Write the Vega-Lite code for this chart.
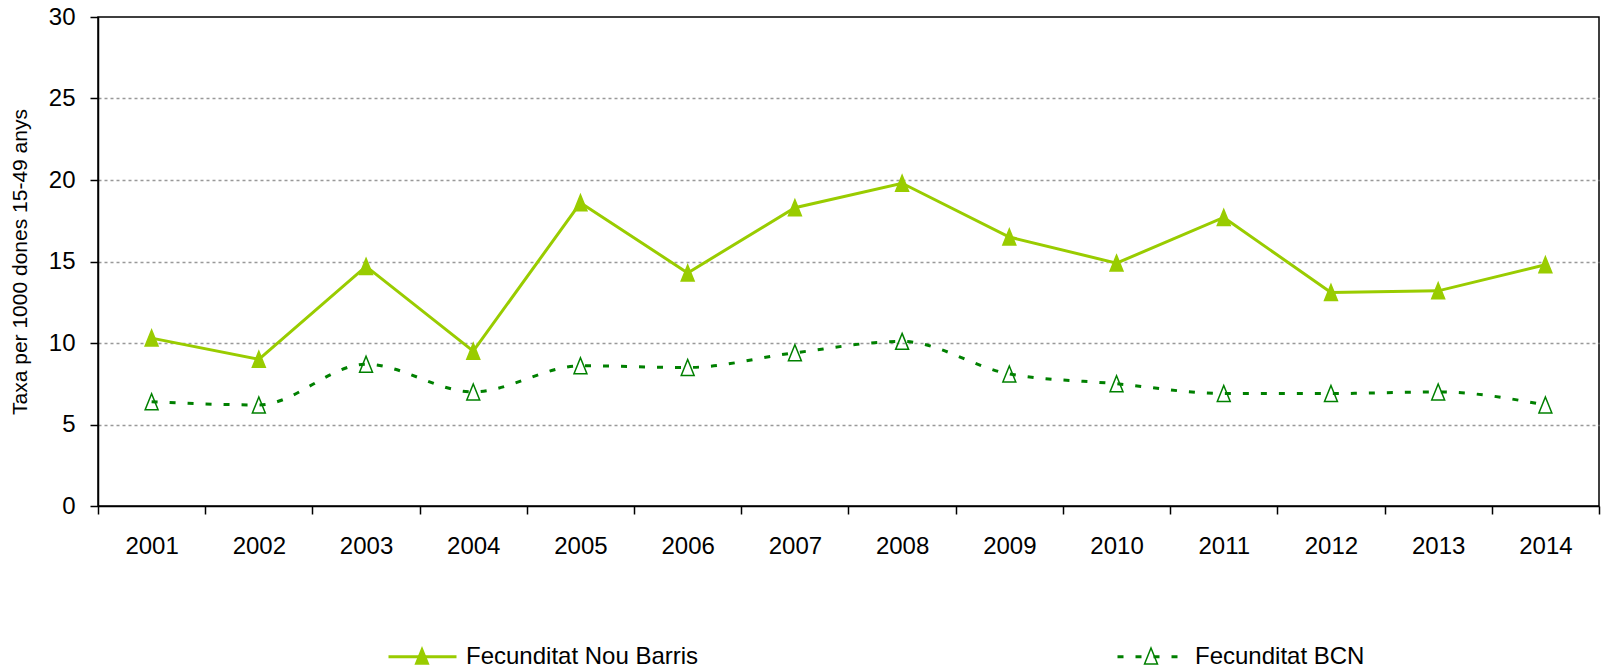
{
  "$schema": "https://vega.github.io/schema/vega-lite/v6.json",
  "width": 1501,
  "height": 489,
  "autosize": {"type": "none"},
  "padding": {"left": 98, "top": 17, "right": 2, "bottom": 165},
  "background": "white",
  "config": {
    "view": {"stroke": "#000000", "strokeWidth": 1.5},
    "font": "Liberation Sans",
    "axis": {"labelColor": "#000000", "tickColor": "#000000", "domainColor": "#000000", "titleColor": "#000000", "labelFont": "Liberation Sans", "titleFont": "Liberation Sans"}
  },
  "data": {
    "values": [
      {"year": "2001", "series": "Fecunditat Nou Barris", "value": 10.3},
      {"year": "2002", "series": "Fecunditat Nou Barris", "value": 9.0},
      {"year": "2003", "series": "Fecunditat Nou Barris", "value": 14.7},
      {"year": "2004", "series": "Fecunditat Nou Barris", "value": 9.5},
      {"year": "2005", "series": "Fecunditat Nou Barris", "value": 18.6},
      {"year": "2006", "series": "Fecunditat Nou Barris", "value": 14.3},
      {"year": "2007", "series": "Fecunditat Nou Barris", "value": 18.3},
      {"year": "2008", "series": "Fecunditat Nou Barris", "value": 19.8},
      {"year": "2009", "series": "Fecunditat Nou Barris", "value": 16.5},
      {"year": "2010", "series": "Fecunditat Nou Barris", "value": 14.9},
      {"year": "2011", "series": "Fecunditat Nou Barris", "value": 17.7},
      {"year": "2012", "series": "Fecunditat Nou Barris", "value": 13.1},
      {"year": "2013", "series": "Fecunditat Nou Barris", "value": 13.2},
      {"year": "2014", "series": "Fecunditat Nou Barris", "value": 14.8},
      {"year": "2001", "series": "Fecunditat BCN", "value": 6.4},
      {"year": "2002", "series": "Fecunditat BCN", "value": 6.2},
      {"year": "2003", "series": "Fecunditat BCN", "value": 8.7},
      {"year": "2004", "series": "Fecunditat BCN", "value": 7.0},
      {"year": "2005", "series": "Fecunditat BCN", "value": 8.6},
      {"year": "2006", "series": "Fecunditat BCN", "value": 8.5},
      {"year": "2007", "series": "Fecunditat BCN", "value": 9.4},
      {"year": "2008", "series": "Fecunditat BCN", "value": 10.1},
      {"year": "2009", "series": "Fecunditat BCN", "value": 8.1},
      {"year": "2010", "series": "Fecunditat BCN", "value": 7.5},
      {"year": "2011", "series": "Fecunditat BCN", "value": 6.9},
      {"year": "2012", "series": "Fecunditat BCN", "value": 6.9},
      {"year": "2013", "series": "Fecunditat BCN", "value": 7.0},
      {"year": "2014", "series": "Fecunditat BCN", "value": 6.2}
    ]
  },
  "encoding": {
    "x": {
      "field": "year",
      "type": "ordinal",
      "bandPosition": 0.5,
      "scale": {"type": "band", "paddingInner": 0, "paddingOuter": 0},
      "axis": {
        "title": null,
        "labelAngle": 0,
        "labelFontSize": 24,
        "labelPadding": 20,
        "tickSize": 8,
        "tickWidth": 1.5,
        "domainWidth": 1.5,
        "tickBand": "extent",
        "grid": false
      }
    },
    "y": {
      "field": "value",
      "type": "quantitative",
      "scale": {"domain": [0, 30], "nice": false, "zero": true},
      "axis": {
        "title": "Taxa per 1000 dones 15-49 anys",
        "titleFontSize": 21,
        "titleFontWeight": "normal",
        "titlePadding": 18,
        "values": [0, 5, 10, 15, 20, 25, 30],
        "labelFontSize": 24,
        "labelPadding": 15,
        "tickSize": 8,
        "tickWidth": 1.5,
        "domainWidth": 1.5,
        "grid": true,
        "gridColor": "#999999",
        "gridDash": [3, 3],
        "gridWidth": 1.5,
        "gridOpacity": {"condition": {"test": "datum.value === 0 || datum.value === 30", "value": 0}, "value": 1}
      }
    }
  },
  "layer": [
    {
      "transform": [{"filter": "datum.series === 'Fecunditat Nou Barris'"}],
      "mark": {"type": "line", "strokeWidth": 3},
      "encoding": {
        "color": {
          "field": "series",
          "type": "nominal",
          "scale": {"domain": ["Fecunditat Nou Barris", "Fecunditat BCN"], "range": ["#99CC00", "#008000"]},
          "legend": {
            "orient": "none",
            "legendX": 289,
            "legendY": 604,
            "direction": "horizontal",
            "title": null,
            "padding": 0,
            "labelFontSize": 24,
            "labelColor": "#000000",
            "labelFont": "Liberation Sans",
            "labelLimit": 0,
            "labelOffset": 8,
            "columnPadding": 412,
            "symbolType": "M-1,0H1",
            "symbolSize": 4624,
            "symbolStrokeWidth": 3,
            "encode": {
              "symbols": {
                "update": {
                  "fill": {"value": "transparent"},
                  "strokeDash": {"signal": "datum.value === 'Fecunditat BCN' ? [6, 12] : [1, 0]"},
                  "strokeWidth": {"value": 3},
                  "opacity": {"value": 1}
                }
              }
            }
          }
        }
      }
    },
    {
      "transform": [{"filter": "datum.series === 'Fecunditat BCN'"}],
      "mark": {"type": "line", "strokeWidth": 3, "strokeDash": [6, 12], "interpolate": "monotone"},
      "encoding": {
        "color": {"field": "series", "type": "nominal"}
      }
    },
    {
      "mark": {"type": "point", "size": 4624, "filled": true, "strokeWidth": 1.5, "opacity": 1},
      "encoding": {
        "shape": {
          "field": "series",
          "type": "nominal",
          "sort": null,
          "scale": {"range": ["M0,-0.235L0.19,0.235L-0.19,0.235Z", "M0,-0.235L0.19,0.235L-0.19,0.235Z"]},
          "legend": {
            "orient": "none",
            "legendX": 289,
            "legendY": 604,
            "direction": "horizontal",
            "title": null,
            "padding": 0,
            "labelFontSize": 24,
            "labelExpr": "''",
            "labelLimit": 0,
            "labelOffset": 8,
            "columnPadding": 651,
            "symbolSize": 4624,
            "symbolStrokeWidth": 1.5,
            "encode": {
              "symbols": {
                "update": {
                  "fill": {"signal": "datum.value === 'Fecunditat BCN' ? 'transparent' : '#99CC00'"},
                  "stroke": {"signal": "datum.value === 'Fecunditat BCN' ? '#008000' : '#99CC00'"},
                  "strokeWidth": {"value": 1.5},
                  "opacity": {"value": 1},
                  "fillOpacity": {"value": 1}
                }
              }
            }
          }
        },
        "fill": {
          "field": "series",
          "type": "nominal",
          "sort": null,
          "scale": {"range": ["#99CC00", "transparent"]},
          "legend": null
        },
        "stroke": {
          "field": "series",
          "type": "nominal",
          "sort": null,
          "scale": {"range": ["#99CC00", "#008000"]},
          "legend": null
        }
      }
    }
  ]
}
